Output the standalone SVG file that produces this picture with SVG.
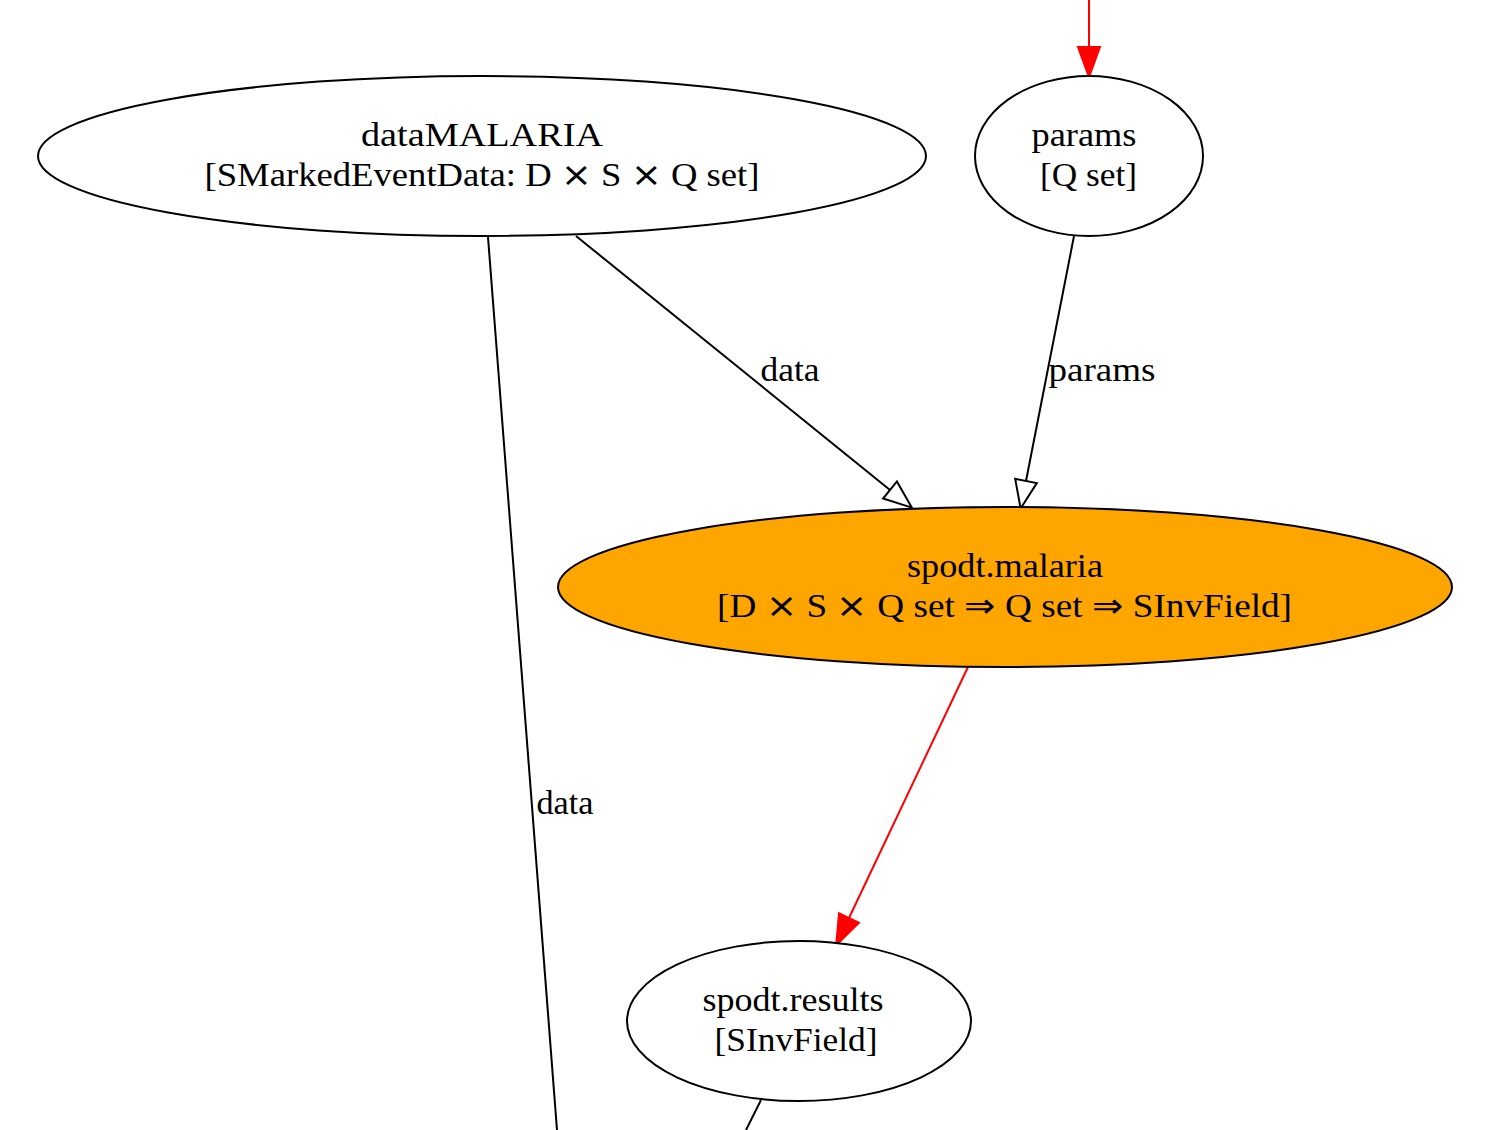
<svg xmlns="http://www.w3.org/2000/svg" width="1508" height="1130" viewBox="0 0 1508 1130">
<defs>
<style>
.node ellipse{stroke:#000;stroke-width:2;fill:#fff}
.node.hl ellipse{fill:#ffa500}
text{font-family:"Liberation Serif","Times New Roman",serif;font-size:33px;fill:#000;text-anchor:middle}
.e{fill:none;stroke-width:2}
.blk{stroke:#000}
.red{stroke:#ff0000}
</style>
<marker id="hollow" markerUnits="userSpaceOnUse" markerWidth="40" markerHeight="30" refX="0" refY="11" orient="auto" overflow="visible">
<path d="M0,0 L28,11 L0,22 Z" fill="#fff" stroke="#000" stroke-width="2"/>
</marker>
<marker id="redfill" markerUnits="userSpaceOnUse" markerWidth="40" markerHeight="30" refX="0" refY="11" orient="auto" overflow="visible">
<path d="M0,0 L30,11 L0,22 Z" fill="#ff0000" stroke="#ff0000" stroke-width="2"/>
</marker>
</defs>
<rect width="1508" height="1130" fill="#fff"/>
<g id="connectors">
<path class="e red" d="M1089,0 L1089,47" marker-end="url(#redfill)"/>
<path class="e blk" d="M576,236 L890,490" marker-end="url(#hollow)"/>
<text x="790" y="381" textLength="59" lengthAdjust="spacingAndGlyphs">data</text>
<path class="e blk" d="M1074,236 L1026,481" marker-end="url(#hollow)"/>
<text x="1102" y="381" textLength="107" lengthAdjust="spacingAndGlyphs">params</text>
<path class="e red" d="M968,667 L849,918" marker-end="url(#redfill)"/>
<path class="e blk" d="M488,237 L557,1130"/>
<text x="565" y="814" textLength="57" lengthAdjust="spacingAndGlyphs">data</text>
<path class="e blk" d="M761,1100 L746,1130"/>
</g>
<g id="dataMALARIA" class="node">
<ellipse cx="482" cy="156" rx="444" ry="80"/>
<text x="482" y="146" textLength="242" lengthAdjust="spacingAndGlyphs">dataMALARIA</text>
<text x="482" y="186" textLength="555" lengthAdjust="spacingAndGlyphs">[SMarkedEventData: D ⨯ S ⨯ Q set]</text>
</g>
<g id="params" class="node">
<ellipse cx="1089" cy="156" rx="114" ry="80"/>
<text x="1084" y="146" textLength="105" lengthAdjust="spacingAndGlyphs">params</text>
<text x="1088.5" y="186" textLength="97" lengthAdjust="spacingAndGlyphs">[Q set]</text>
</g>
<g id="spodt_malaria" class="node hl">
<ellipse cx="1005" cy="587" rx="447" ry="80"/>
<text x="1005" y="577" textLength="196" lengthAdjust="spacingAndGlyphs">spodt.malaria</text>
<text x="1004.5" y="617" textLength="575" lengthAdjust="spacingAndGlyphs">[D ⨯ S ⨯ Q set ⇒ Q set ⇒ SInvField]</text>
</g>
<g id="spodt_results" class="node">
<ellipse cx="799" cy="1021" rx="172" ry="80"/>
<text x="793" y="1011" textLength="181" lengthAdjust="spacingAndGlyphs">spodt.results</text>
<text x="796" y="1051" textLength="163" lengthAdjust="spacingAndGlyphs">[SInvField]</text>
</g>
</svg>
